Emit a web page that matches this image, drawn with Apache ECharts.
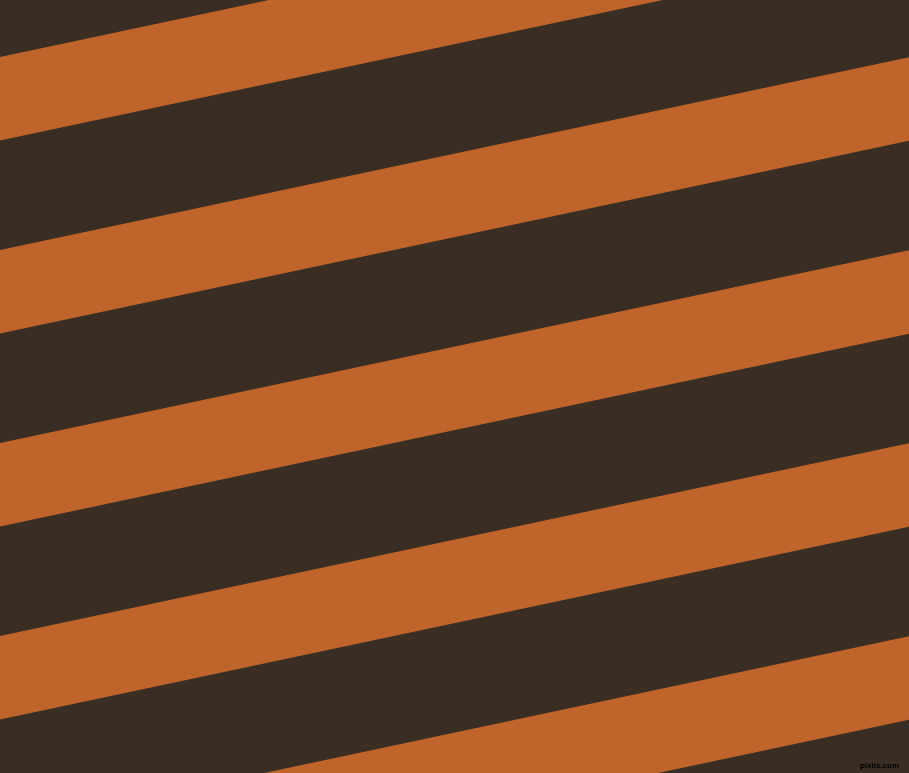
<!DOCTYPE html>
<html>
<head>
<meta charset="utf-8">
<script src="https://cdn.jsdelivr.net/npm/echarts@6/dist/echarts.min.js"></script>
<style>
html,body{margin:0;padding:0;background:#3a2e24;}
#chart{width:909px;height:773px;}
</style>
</head>
<body>
<div id="chart"></div>
<script>
// Stripe data: y-intercept (at x = 0) of each orange band's upper edge, in picture units
const stripeTops = [57, 250, 443, 636, 829];
const stripeThickness = [83.5, 83.5, 83.5, 83.5, 83.5];
const stripeSlope = 0.212; // rise per unit x (bands climb to the right)
const xRange = [0, 909];
const yRange = [0, 773];

const chart = echarts.init(document.getElementById('chart'), null, {renderer: 'canvas'});

const data = stripeTops.map((t, i) => [t, stripeThickness[i]]);

chart.setOption({
  animation: false,
  backgroundColor: '#3a2e24',
  grid: {left: 0, right: 0, top: 0, bottom: 0},
  xAxis: {type: 'value', min: xRange[0], max: xRange[1], show: false},
  yAxis: {type: 'value', min: yRange[0], max: yRange[1], inverse: true, show: false},
  title: {
    text: 'pixlis.com',
    right: 10, bottom: 3, padding: 0,
    textStyle: {fontSize: 8, fontWeight: 'bold', color: '#000', fontFamily: 'Liberation Sans'}
  },
  series: [{
    type: 'custom',
    clip: true,
    data: data,
    renderItem: function (params, api) {
      const top = api.value(0);
      const th = api.value(1);
      const x0 = xRange[0], x1 = xRange[1];
      const pts = [
        api.coord([x0, top - stripeSlope * x0]),
        api.coord([x1, top - stripeSlope * x1]),
        api.coord([x1, top + th - stripeSlope * x1]),
        api.coord([x0, top + th - stripeSlope * x0])
      ];
      return {
        type: 'polygon',
        shape: {points: pts},
        style: {fill: '#bf652b'}
      };
    }
  }]
});
</script>
</body>
</html>
